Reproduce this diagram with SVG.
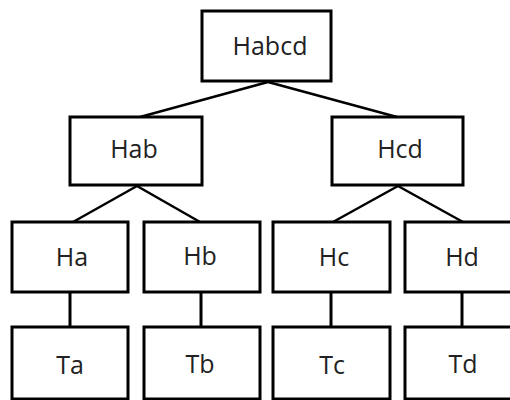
<svg xmlns="http://www.w3.org/2000/svg" width="510" height="400" viewBox="0 0 510 400">
<style>
.box{fill:#fff;stroke:#000;stroke-width:3}
.lbl{font-family:"Open Sans","DejaVu Sans",sans-serif;font-size:25px;fill:#222;text-anchor:middle}
.con{stroke:#000;stroke-width:2.5;fill:none}
</style>
<rect width="510" height="400" fill="#fff"/>
<g id="connectors">
<line class="con" x1="268" y1="82" x2="140" y2="117"/>
<line class="con" x1="268" y1="82" x2="397" y2="117"/>
<line class="con" x1="137" y1="186" x2="73" y2="222"/>
<line class="con" x1="137" y1="186" x2="200" y2="222"/>
<line class="con" x1="398" y1="186" x2="333" y2="222"/>
<line class="con" x1="398" y1="186" x2="463" y2="222"/>
<line class="con" x1="70" y1="292" x2="70" y2="327" style="stroke-width:3"/>
<line class="con" x1="201" y1="292" x2="201" y2="327" style="stroke-width:3"/>
<line class="con" x1="331" y1="292" x2="331" y2="327" style="stroke-width:3"/>
<line class="con" x1="462" y1="292" x2="462" y2="327" style="stroke-width:3"/>
</g>
<g id="Habcd"><rect class="box" x="202" y="11" width="129" height="70"/><text class="lbl" x="270" y="55">Habcd</text></g>
<g id="Hab"><rect class="box" x="70" y="117" width="132" height="68"/><text class="lbl" x="134" y="158">Hab</text></g>
<g id="Hcd"><rect class="box" x="332" y="117" width="131" height="68"/><text class="lbl" x="400" y="158">Hcd</text></g>
<g id="Ha"><rect class="box" x="12" y="222" width="116" height="70"/><text class="lbl" x="72" y="266">Ha</text></g>
<g id="Hb"><rect class="box" x="144" y="222" width="116" height="70"/><text class="lbl" x="200" y="265">Hb</text></g>
<g id="Hc"><rect class="box" x="273" y="222" width="117" height="70"/><text class="lbl" x="334" y="266">Hc</text></g>
<g id="Hd"><rect class="box" x="405" y="222" width="117" height="70"/><text class="lbl" x="462" y="266">Hd</text></g>
<g id="Ta"><rect class="box" x="12" y="327" width="116" height="72"/><text class="lbl" x="70" y="374">Ta</text></g>
<g id="Tb"><rect class="box" x="144" y="327" width="116" height="72"/><text class="lbl" x="200" y="373">Tb</text></g>
<g id="Tc"><rect class="box" x="273" y="327" width="117" height="72"/><text class="lbl" x="332" y="374">Tc</text></g>
<g id="Td"><rect class="box" x="405" y="327" width="117" height="72"/><text class="lbl" x="463" y="373">Td</text></g>
</svg>
